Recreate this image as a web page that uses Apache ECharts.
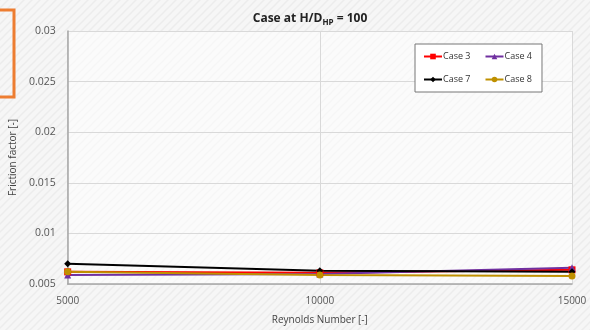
<!DOCTYPE html>
<html>
<head>
<meta charset="utf-8">
<script src="https://cdn.jsdelivr.net/npm/echarts@6/dist/echarts.min.js"></script>
<style>
  html, body { margin: 0; padding: 0; }
  #main { width: 590px; height: 330px; }
</style>
</head>
<body>
<div id="main"></div>
<script>
// 数据
var reynolds = [5000, 10000, 15000];
var case3 = [0.0062, 0.0061, 0.0064];
var case4 = [0.0059, 0.0060, 0.0066];
var case7 = [0.0070, 0.0063, 0.0062];
var case8 = [0.0062, 0.0059, 0.0058];
var yTicks = [0.005, 0.01, 0.015, 0.02, 0.025, 0.03];

function pairs(ys) {
    var out = [];
    for (var i = 0; i < reynolds.length; i++) {
        out.push([reynolds[i], ys[i]]);
    }
    return out;
}

// 背景斜纹
var stripe = document.createElement('canvas');
stripe.width = 8;
stripe.height = 8;
var ctx = stripe.getContext('2d');
ctx.fillStyle = '#f6f6f6';
ctx.fillRect(0, 0, 8, 8);
ctx.strokeStyle = '#ececec';
ctx.lineWidth = 1.5;
ctx.beginPath();
ctx.moveTo(0, 8); ctx.lineTo(8, 0);
ctx.moveTo(-4, 4); ctx.lineTo(4, -4);
ctx.moveTo(4, 12); ctx.lineTo(12, 4);
ctx.stroke();

var chart = echarts.init(document.getElementById('main'));

var option = {
    backgroundColor: { image: stripe, repeat: 'repeat' },
    animation: false,
    title: {
        text: 'Case at H/D{sub|HP} = 100',
        left: 305,
        textAlign: 'center',
        top: 6,
        textStyle: {
            fontFamily: 'Open Sans',
            fontSize: 12,
            fontWeight: 'bold',
            color: '#222',
            rich: {
                sub: { fontSize: 8, fontWeight: 'bold', color: '#222', padding: [8, 0, 0, 0] }
            }
        }
    },
    legend: {
        left: 415,
        top: 44,
        width: 130,
        padding: [8, 10, 8, 8],
        itemGap: 14,
        itemWidth: 18,
        itemHeight: 7,
        borderColor: '#777',
        borderWidth: 1,
        backgroundColor: '#fff',
        textStyle: { fontFamily: 'Open Sans', fontSize: 9, color: '#333', padding: [0, 0, 0, -4] },
        data: ['Case 3', 'Case 4', 'Case 7', 'Case 8']
    },
    graphic: [{
        type: 'rect',
        shape: { x: -4, y: 10, width: 18, height: 87 },
        style: { fill: 'none', stroke: '#ed7d31', lineWidth: 3 }
    }],
    grid: {
        left: 65,
        right: 18,
        top: 31,
        bottom: 44,
        show: true,
        backgroundColor: 'rgba(255,255,255,0.55)',
        borderWidth: 0
    },
    xAxis: {
        type: 'value',
        min: 5000,
        max: 15000,
        interval: 5000,
        name: 'Reynolds Number [-]',
        nameLocation: 'middle',
        nameGap: 31,
        nameTextStyle: { fontFamily: 'Open Sans', fontSize: 10, color: '#444' },
        axisLine: { lineStyle: { color: '#a6a6a6', width: 1.5 } },
        axisTick: { show: false },
        axisLabel: {
            fontFamily: 'Open Sans', fontSize: 10, color: '#555', margin: 12,
            formatter: function (v) { return String(v); }
        },
        splitLine: { show: true, lineStyle: { color: '#d9d9d9', width: 1 } }
    },
    yAxis: {
        type: 'value',
        min: yTicks[0],
        max: yTicks[yTicks.length - 1],
        interval: 0.005,
        name: 'Friction factor [-]',
        nameLocation: 'middle',
        nameGap: 44,
        nameTextStyle: { fontFamily: 'Open Sans', fontSize: 10, color: '#444' },
        axisLine: { show: true, lineStyle: { color: '#a6a6a6', width: 1.5 } },
        axisTick: { show: false },
        axisLabel: { fontFamily: 'Open Sans', fontSize: 10.5, color: '#555', margin: 12 },
        splitLine: { show: true, lineStyle: { color: '#d9d9d9', width: 1 } }
    },
    series: [{
        name: 'Case 3',
        type: 'line',
        data: pairs(case3),
        symbol: 'rect',
        symbolSize: 7,
        color: '#ff0000',
        lineStyle: { width: 2 }
    }, {
        name: 'Case 4',
        type: 'line',
        data: pairs(case4),
        symbol: 'triangle',
        symbolSize: 7,
        color: '#7030a0',
        lineStyle: { width: 2 }
    }, {
        name: 'Case 7',
        type: 'line',
        data: pairs(case7),
        symbol: 'diamond',
        symbolSize: 7,
        color: '#000000',
        lineStyle: { width: 2 }
    }, {
        name: 'Case 8',
        type: 'line',
        data: pairs(case8),
        symbol: 'circle',
        symbolSize: 7,
        color: '#bf9000',
        lineStyle: { width: 2 }
    }]
};

chart.setOption(option);
</script>
</body>
</html>
